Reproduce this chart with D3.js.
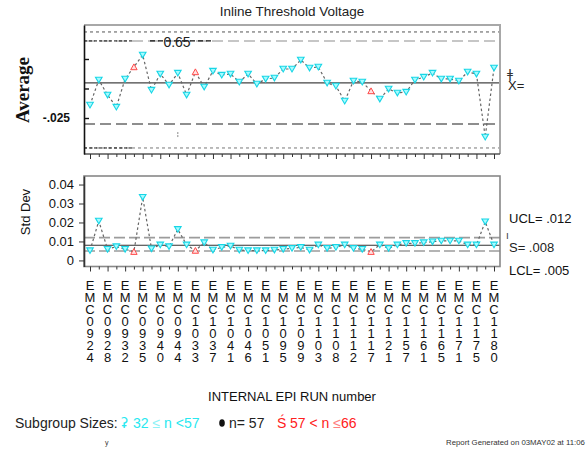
<!DOCTYPE html>
<html>
<head>
<meta charset="utf-8">
<script src="https://cdn.jsdelivr.net/npm/d3@7/dist/d3.min.js"></script>
<style>
  body { margin: 0; background: #fff; }
  svg { display: block; font-family: "Liberation Sans", Arial, Helvetica, sans-serif; }
</style>
</head>
<body>
<svg id="chart" width="586" height="451"></svg>
<script>
// Run identifiers shown under every other subgroup
const runLabels = [
  "EMC0924", "EMC0928", "EMC0932", "EMC0935", "EMC0940", "EMC0944",
  "EMC1033", "EMC1037", "EMC1041", "EMC1046", "EMC1051", "EMC1095",
  "EMC1099", "EMC1103", "EMC1108", "EMC1112", "EMC1117", "EMC1121",
  "EMC1157", "EMC1161", "EMC1165", "EMC1171", "EMC1175", "EMC1180"
];

// Subgroup averages (offset from target, V)
const averages = [
  -0.0140, 0.0072, -0.0055, -0.0157, 0.0081, 0.0182, 0.0284, -0.0013,
  0.0123, 0.0030, 0.0131, -0.0055, 0.0140, 0.0013, 0.0148, 0.0114,
  0.0123, 0.0055, 0.0123, 0.0038, 0.0081, 0.0089, 0.0165, 0.0165,
  0.0242, 0.0174, 0.0182, 0.0047, 0.0021, -0.0106, 0.0064, 0.0055,
  -0.0021, -0.0089, -0.0004, -0.0038, -0.0030, 0.0072, 0.0097, 0.0131,
  0.0081, 0.0081, 0.0064, 0.0140, 0.0123, -0.0411, 0.0174
];

// Subgroup standard deviations
const stdDevs = [
  0.0052, 0.0208, 0.0059, 0.0073, 0.0059, 0.0046, 0.0333, 0.0062,
  0.0082, 0.0073, 0.0164, 0.0082, 0.0052, 0.0094, 0.0055, 0.0069,
  0.0076, 0.0055, 0.0052, 0.0052, 0.0052, 0.0055, 0.0059, 0.0064,
  0.0069, 0.0055, 0.0082, 0.0064, 0.0069, 0.0082, 0.0064, 0.0059,
  0.0046, 0.0082, 0.0064, 0.0082, 0.0090, 0.0090, 0.0094, 0.0099,
  0.0103, 0.0103, 0.0103, 0.0082, 0.0082, 0.0204, 0.0082
];

// Subgroups with 57 < n <= 66 (all others have 32 <= n < 57)
const largeSubgroups = [5, 12, 32];

// Control limits
const avgCenter = 0.0047, avgUCL = 0.0403, avgLCL = -0.0301;
const avgOuterUpper = 0.0479, avgOuterLower = -0.0504;
const avgTicks = [-0.025, 0, 0.025];
const sdCenter = 0.008, sdUCL = 0.012, sdLCL = 0.005;
const sdTicks = [0, 0.01, 0.02, 0.03, 0.04];

const svg = d3.select("#chart");
const n = averages.length;
const idx = d3.range(n);

const left = 84, right = 500;
const x = d3.scalePoint().domain(idx).range([90, 494]);

const top1 = 25, bot1 = 154;
const yAvg = d3.scaleLinear().domain([-0.0555, 0.0538]).range([bot1, top1]);
const top2 = 176, bot2 = 266.5;
const ySd = d3.scaleLinear().domain([-0.0032, 0.0445]).range([bot2, top2]);

const cyanFill = "#a6fbff", cyanStroke = "#17d6e6";
const redStroke = "#ff4a4a";

// Title
svg.append("text").attr("x", 292).attr("y", 16).attr("text-anchor", "middle")
  .attr("font-size", 13.5).attr("fill", "#222").text("Inline Threshold Voltage");

function hline(g, yv, x0, x1, color, width, dash) {
  g.append("line").attr("x1", x0).attr("x2", x1).attr("y1", yv).attr("y2", yv)
    .attr("stroke", color).attr("stroke-width", width)
    .attr("stroke-dasharray", dash || null);
}

function drawMarkers(g, values, yScale) {
  const pts = g.selectAll("path.pt").data(idx).join("path").attr("class", "pt")
    .attr("transform", i => `translate(${x(i)},${yScale(values[i])})`);
  pts.filter(i => !largeSubgroups.includes(i))
    .attr("d", "M-3.3,-2.7L3.3,-2.7L0,2.9Z")
    .attr("fill", cyanFill).attr("stroke", cyanStroke).attr("stroke-width", 1.1);
  pts.filter(i => largeSubgroups.includes(i))
    .attr("d", "M-3.2,2.7L3.2,2.7L0,-3.1Z")
    .attr("fill", "#ffe0e0").attr("stroke", redStroke).attr("stroke-width", 1);
}

function xAxis(g, yPos) {
  const ax = g.append("g").attr("transform", `translate(0,${yPos})`)
    .call(d3.axisBottom(x).tickValues(idx).tickSize(5).tickSizeOuter(0).tickFormat(""));
  ax.select(".domain").remove();
  ax.selectAll(".tick line").attr("stroke", "#333")
    .attr("y2", d => d % 2 === 0 ? 5 : 3);
  return ax;
}

// ---------- Averages chart ----------
const g1 = svg.append("g");
hline(g1, yAvg(avgOuterUpper), left, right, "#555", 1, "3,3");
hline(g1, yAvg(avgUCL), left, right, "#b4b4b4", 1.6, "11,5");
hline(g1, yAvg(avgUCL), left, 134, "#111", 1, "3,2");
hline(g1, yAvg(avgUCL), 150, 214, "#111", 1.2, "5,3");
hline(g1, yAvg(avgCenter), left, right, "#444", 1.2);
hline(g1, yAvg(avgLCL), left, right, "#6a6a6a", 1.6, "11,5");
hline(g1, yAvg(avgOuterLower), left, right, "#777", 1, "3,3");
hline(g1, yAvg(avgOuterLower), left, 134, "#111", 1, "3,2");

g1.append("line").attr("x1", x(10)).attr("x2", x(10))
  .attr("y1", yAvg(-0.0369)).attr("y2", yAvg(-0.0419))
  .attr("stroke", "#888").attr("stroke-width", 1).attr("stroke-dasharray", "2,1");

g1.append("text").attr("x", 177).attr("y", 47).attr("text-anchor", "middle")
  .attr("font-size", 14).attr("fill", "#222").text("0.65");

g1.append("path").datum(idx)
  .attr("d", d3.line().x(i => x(i)).y(i => yAvg(averages[i])))
  .attr("fill", "none").attr("stroke", "#666").attr("stroke-width", 1.2)
  .attr("stroke-dasharray", "2.5,2.5");
drawMarkers(g1, averages, yAvg);

// frame
g1.append("path").attr("d", `M${left},${top1}H${right}V${bot1}`)
  .attr("fill", "none").attr("stroke", "#a8a8a8").attr("stroke-width", 2);
g1.append("line").attr("x1", left).attr("x2", right).attr("y1", bot1).attr("y2", bot1)
  .attr("stroke", "#555").attr("stroke-width", 1.5);
const ay1 = g1.append("g").attr("transform", `translate(${left},0)`)
  .call(d3.axisLeft(yAvg).tickValues(avgTicks).tickSize(-5).tickSizeOuter(0).tickPadding(14)
    .tickFormat(d => d === -0.025 ? "-.025" : ""));
ay1.select(".domain").attr("stroke", "#111").attr("stroke-width", 1.6);
ay1.selectAll(".tick line").attr("stroke", "#111").attr("stroke-width", 1.4);
ay1.selectAll(".tick text").attr("font-size", 12).attr("font-weight", "bold")
  .attr("font-family", "Liberation Sans, Arial, sans-serif").attr("fill", "#111");
xAxis(g1, bot1);

svg.append("text").attr("transform", "translate(29,90) rotate(-90)")
  .attr("text-anchor", "middle").attr("font-family", "Liberation Serif, Times New Roman, serif")
  .attr("font-weight", "bold").attr("font-size", 19).attr("fill", "#111").text("Average");

// X double-bar label
svg.append("text").attr("x", 507).attr("y", 78).attr("font-size", 13)
  .attr("font-family", "DejaVu Sans, sans-serif").attr("fill", "#333").text("ǂ");
svg.append("text").attr("x", 508).attr("y", 90).attr("font-size", 13)
  .attr("fill", "#222").text("X=");

// ---------- Std Dev chart ----------
const g2 = svg.append("g");
hline(g2, ySd(sdUCL), left, right, "#9c9c9c", 1.6, "11,4");
hline(g2, ySd(sdCenter), left, right, "#333", 1.2);
hline(g2, ySd(sdLCL), left, right, "#9c9c9c", 1.6, "11,4");

g2.append("path").datum(idx)
  .attr("d", d3.line().x(i => x(i)).y(i => ySd(stdDevs[i])))
  .attr("fill", "none").attr("stroke", "#666").attr("stroke-width", 1.2)
  .attr("stroke-dasharray", "2.5,2.5");
drawMarkers(g2, stdDevs, ySd);

g2.append("rect").attr("x", left).attr("y", top2).attr("width", right - left)
  .attr("height", bot2 - top2).attr("fill", "none").attr("stroke", "#888").attr("stroke-width", 1.6);
const ay2 = g2.append("g").attr("transform", `translate(${left},0)`)
  .call(d3.axisLeft(ySd).tickValues(sdTicks).tickSize(5).tickSizeOuter(0).tickPadding(5)
    .tickFormat(d => d === 0 ? "0" : d.toFixed(2)));
ay2.select(".domain").attr("stroke", "#333").attr("stroke-width", 1.6);
ay2.selectAll(".tick line").attr("stroke", "#333");
ay2.selectAll(".tick text").attr("font-size", 13).attr("fill", "#111")
  .attr("font-family", "Liberation Sans, Arial, sans-serif");
xAxis(g2, bot2);

svg.append("text").attr("transform", "translate(30,212) rotate(-90)")
  .attr("text-anchor", "middle").attr("font-size", 13).attr("fill", "#111").text("Std Dev");

// Run labels, one character per row
const labelG = svg.append("g").attr("font-size", 13).attr("fill", "#111").attr("text-anchor", "middle");
labelG.selectAll("text").data(runLabels).join("text")
  .attr("x", (d, k) => x(k * 2)).attr("y", 290)
  .selectAll("tspan").data(d => d.split("")).join("tspan")
  .attr("x", function () { return d3.select(this.parentNode).attr("x"); })
  .attr("dy", (c, j) => j === 0 ? 0 : 12)
  .text(c => c);

svg.append("text").attr("x", 292).attr("y", 401).attr("text-anchor", "middle")
  .attr("font-size", 13).attr("fill", "#111").text("INTERNAL EPI RUN number");

// Limit labels for the std dev chart
svg.append("text").attr("x", 509).attr("y", 223).attr("font-size", 13).attr("fill", "#111").text("UCL= .012");
svg.append("text").attr("x", 506).attr("y", 239).attr("font-size", 10).attr("fill", "#333").text("ı");
svg.append("text").attr("x", 509).attr("y", 252).attr("font-size", 13).attr("fill", "#222").text("S= .008");
svg.append("text").attr("x", 509).attr("y", 275).attr("font-size", 13).attr("fill", "#111").text("LCL= .005");

// Legend
const leg = svg.append("g").attr("font-size", 14);
leg.append("text").attr("x", 15).attr("y", 428).attr("fill", "#222").text("Subgroup Sizes:");
leg.append("text").attr("x", 121).attr("y", 428).attr("fill", "#28e8f0")
  .attr("font-family", "DejaVu Sans, sans-serif").text("ʡ");
const t1 = leg.append("text").attr("x", 133).attr("y", 428).attr("fill", "#28e8f0");
t1.append("tspan").text("32 ");
t1.append("tspan").attr("fill", "#8ff2f6").text("≤");
t1.append("tspan").text(" n <57");
leg.append("ellipse").attr("cx", 222).attr("cy", 423).attr("rx", 2.8).attr("ry", 3.8).attr("fill", "#111");
leg.append("text").attr("x", 229).attr("y", 428).attr("fill", "#222").text("n= 57");
leg.append("text").attr("x", 277).attr("y", 428).attr("fill", "#ff2020").text("Ś");
const t2 = leg.append("text").attr("x", 290).attr("y", 428).attr("fill", "#ff2020");
t2.append("tspan").text("57 < n ");
t2.append("tspan").attr("fill", "#ff8080").text("≤");
t2.append("tspan").text("66");

// Footer
svg.append("text").attr("x", 105).attr("y", 445).attr("font-size", 7).attr("fill", "#333").text("y");
svg.append("text").attr("x", 446).attr("y", 445).attr("font-size", 7.8).attr("fill", "#333")
  .text("Report Generated on 03MAY02 at 11:06");
</script>
</body>
</html>
